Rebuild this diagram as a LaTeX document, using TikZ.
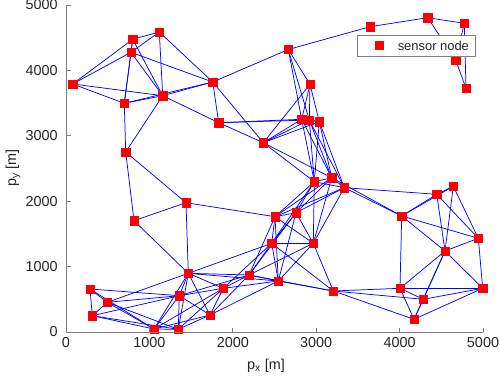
\documentclass[tikz,border=0pt]{standalone}
\usepackage{fontspec}
\setmainfont{Liberation Sans}
\pgfdeclarelayer{background}
\pgfsetlayers{background,main}
\definecolor{axcol}{RGB}{38,38,38}
\definecolor{axline}{RGB}{128,128,128}
\definecolor{mblue}{RGB}{0,0,255}
\definecolor{mred}{RGB}{255,0,0}
\tikzset{
  sensor/.style={rectangle,fill=mred,draw=mred,line width=0.3pt,minimum size=6.2pt,inner sep=0pt},
  link/.style={draw=mblue,line width=0.55pt},
  axis/.style={draw=axline,line width=0.5pt},
  ticklab/.style={text=axcol,font=\fontsize{10.8}{13}\selectfont,inner sep=0pt},
}
\def\PX{{72.7,132.7,159.3,131,124.3,162.7,212.7,218.7,288.3,310,370,427.7,464.3,455.7,466,301.7,309.3,319.3,125.7,186,134,263.3,314.3,331.7,344.3,275,296,401.7,436.7,453.3,478.3,445,400,423.3,482.7,414,271.7,313.3,249,223.3,278.3,333.3,188.3,90,107.3,92.3,179.3,154,178.3,210}}
\def\PY{{84,39.3,32,52.3,103.3,95.7,82,122.7,49.5,84.3,26.7,17.7,23.3,60,88.3,119.3,120,121.7,152,202.7,220.7,142.7,181.7,177.7,187.7,216.7,212.7,216,194.3,186.3,238.3,251,288.3,299.3,288.3,319.3,243.3,243.3,275,288.3,281,291,273.3,289,302.3,315.7,295.7,329,329.3,315}}
\begin{document}
\begin{tikzpicture}[x=0.75pt,y=-0.75pt]
\useasboundingbox (0,0) rectangle (500,383);
% sensor nodes
\foreach \i in {1,...,50}{
  \pgfmathsetmacro\xx{\PX[\i-1]}
  \pgfmathsetmacro\yy{\PY[\i-1]}
  \node[sensor] (n\i) at (\xx,\yy) {};
}
% links: nodes closer than the communication range
\begin{pgfonlayer}{background}
\foreach \i in {1,...,49}{
  \pgfmathtruncatemacro\js{\i+1}
  \foreach \j in {\js,...,50}{
    \pgfmathsetmacro\dd{veclen((\PX[\i-1]-\PX[\j-1])*0.01199,(\PY[\i-1]-\PY[\j-1])*0.01529)}
    \ifdim\dd pt<1.12pt \draw[link] (n\i.center) -- (n\j.center);\fi
  }
}
\end{pgfonlayer}
% axes
\coordinate (o) at (66,332);
\coordinate (xend) at (483,332);
\coordinate (yend) at (66,5);
\draw[axis] (yend) -- (o) -- (xend);
\foreach \k/\lab in {0/0,1/1000,2/2000,3/3000,4/4000,5/5000}{
  \draw[axis] (66+83.4*\k,332) -- (66+83.4*\k,327.5);
  \node[ticklab,anchor=north] (xt\k) at (66+83.4*\k,337) {\lab};
  \draw[axis] (66,332-65.4*\k) -- (70.5,332-65.4*\k);
  \node[ticklab,anchor=east] (yt\k) at (58,332-65.4*\k) {\lab};
}
\node[ticklab] (xlab) at (266,366) {p\textsubscript{x} [m]};
\node[ticklab,rotate=90] (ylab) at (13,168) {p\textsubscript{y} [m]};
% legend
\node[draw=axline,fill=white,line width=0.5pt,minimum width=88.5pt,minimum height=15.8pt,inner sep=0pt] (leg) at (416,45.5) {};
\node[sensor] (legmark) at (379,45.5) {};
\node[text=axcol,font=\fontsize{9.7}{12}\selectfont,anchor=west,inner sep=0pt] (legtext) at (397.5,45.5) {sensor node};
\end{tikzpicture}
\end{document}
